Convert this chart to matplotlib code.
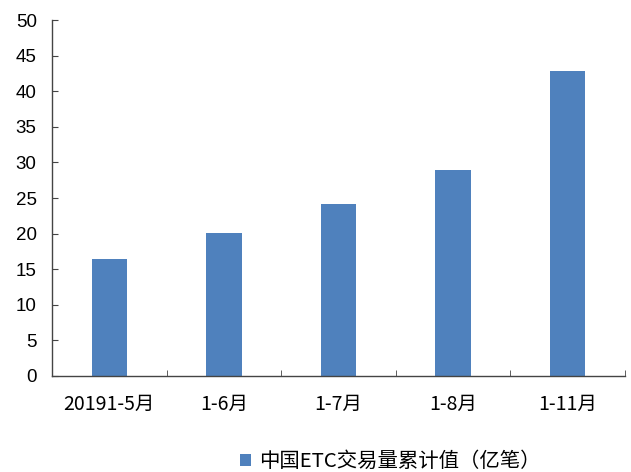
import matplotlib
matplotlib.use("Agg")
import matplotlib.pyplot as plt
import numpy as np

# cumulative ETC transactions, 100 million
periods = ['20191-5月', '1-6月', '1-7月', '1-8月', '1-11月']
volume = [16.5, 20.1, 24.2, 28.9, 42.9]
series_name = '中国ETC交易量累计值（亿笔）'

plt.rcParams['font.family'] = ['Noto Sans CJK SC', 'DejaVu Sans']

fig = plt.figure(figsize=(6.31, 4.72), dpi=100)
ax = fig.add_axes([0.0824, 0.2034, 0.908, 0.7542])

x = np.arange(len(periods))
ax.bar(x, volume, width=0.31, color='#4F81BD', label=series_name, zorder=2)

ax.set_xlim(-0.5, len(periods) - 0.5)
ax.set_ylim(0, 50)
ax.set_yticks(np.arange(0, 51, 5))
ax.set_yticklabels([str(v) for v in range(0, 51, 5)], family='Liberation Sans', fontsize=13.5)

# labels on categories, tick marks on the boundaries
ax.set_xticks(x)
ax.set_xticklabels(periods, fontsize=14)
ax.set_xticks(np.arange(-0.5, len(periods)), minor=True)
ax.tick_params(axis='x', which='major', length=0, pad=13)
ax.tick_params(axis='x', which='minor', length=4, direction='in', color='#444444')
ax.tick_params(axis='y', length=4, direction='in', color='#444444', pad=11)

for side in ['top', 'right']:
    ax.spines[side].set_visible(False)
for side in ['left', 'bottom']:
    ax.spines[side].set_color('#444444')
    ax.spines[side].set_linewidth(1.0)

fig.legend(loc='center', bbox_to_anchor=(0.618, 0.022), frameon=False,
           fontsize=14.7, handlelength=0.55, handleheight=0.55, handletextpad=0.4)

fig.savefig('out.png', dpi=100)
